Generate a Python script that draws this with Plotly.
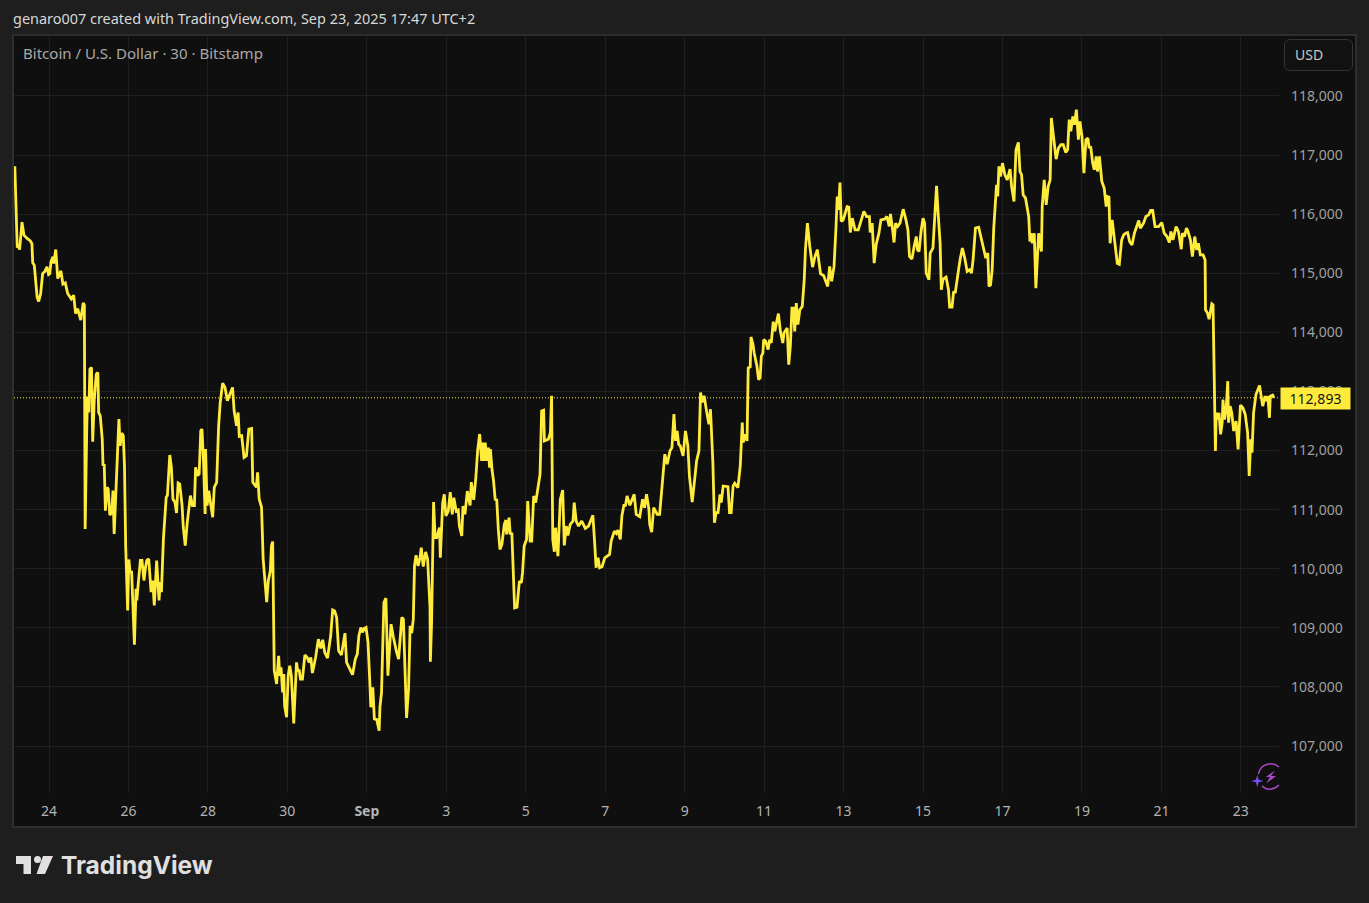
import numpy as np
import pandas as pd
import plotly.graph_objects as go

# Day numbers count from Aug 1 = 1, so Sep 1 = 32 and Sep 23 = 54. Each point: (day, BTC/USD price).
segment_late_aug_1 = [
 (23.12,116812),(23.16,116068),(23.18,115436),(23.21,115459),(23.24,115400),(23.30,115865),(23.35,115645),(23.43,115590),
 (23.51,115549),(23.55,115500),(23.57,115177),(23.61,115137),(23.65,114770),(23.68,114600),(23.72,114522),(23.77,114658),
 (23.82,114996),(23.88,115036),(23.93,115109),(23.97,114979),(24.00,114996),(24.03,115193),(24.08,115278),(24.10,115165),
 (24.15,115402),(24.20,114911),(24.28,115041),(24.33,114816),(24.39,114838),(24.45,114658),(24.54,114567),(24.60,114630),
 (24.65,114319),(24.70,114404),(24.78,114207),(24.84,114500),(24.87,114460),
 (24.89,110675),(24.93,112364),(24.95,112916),(24.98,112645),(25.01,113377),(25.05,113405),(25.08,112150),(25.12,112870),
 (25.17,113293),(25.21,113321),(25.23,112645),(25.27,112589),(25.32,112195),(25.34,111745),(25.37,111773),(25.40,110984),
 (25.44,111379),(25.47,111350),(25.51,110911),(25.56,110945),(25.59,111322),(25.62,110590),(25.66,111322),(25.71,112139),
 (25.74,112533),(25.77,112082),(25.81,112296),(25.85,112251),(25.88,111745),(25.91,110393),(25.96,109295),(25.99,110157),
 (26.02,109943),(26.06,109943),(26.13,108715),(26.17,109661),(26.19,109464),(26.23,109774),(26.28,110140),(26.32,110140),
 (26.37,109802),(26.41,110027),(26.44,110140),(26.49,110168),(26.55,109605),(26.59,109802),(26.63,109380),(26.69,110140),
 (26.75,109464),(26.78,109774),(26.81,109605),(26.86,110506),(26.90,110872),(26.93,111210),(26.96,111238),(27.02,111925),
 (27.06,111716),(27.10,111181),(27.15,111125),(27.19,110945),(27.23,111452),(27.27,111435),(27.33,111069),(27.36,110703),
 (27.41,110393),(27.46,110787),(27.54,111238),(27.59,111069),(27.64,111069),(27.67,111716),(27.72,111576),(27.76,111604),
 (27.80,112336),(27.83,112364),(27.87,111801),(27.91,110928),(27.92,112026),(27.96,111069),(28.00,111322),(28.05,111125),
 (28.10,110872),(28.14,111379),(28.20,111463),(28.25,112420),(28.29,112814),(28.35,113141),(28.41,113068),(28.47,112842),
 (28.53,112955),(28.60,113068),(28.64,112673),(28.70,112420),(28.74,112645),(28.77,112240),(28.83,112251),(28.89,111885),
 (28.95,111913),(29.01,112364),(29.08,112375),(29.11,111463),(29.20,111379),(29.23,111632),(29.27,111181),(29.33,111041),
 (29.37,110168),(29.43,109718),(29.46,109436),(29.50,109800),(29.55,109960),(29.58,110393),(29.61,110460),
]
segment_late_aug_2 = [
 (29.65,108275),(29.71,108050),(29.76,108528),(29.79,108191),(29.82,108331),(29.86,107909),(29.89,108219),(29.91,107684),
 (29.96,107487),(30.00,108191),(30.04,108360),(30.08,108191),(30.14,107385),(30.21,108416),(30.24,108275),(30.28,108275),
 (30.31,108135),(30.36,108135),(30.42,108540),(30.48,108500),(30.53,108416),(30.57,108500),(30.61,108236),(30.69,108500),
 (30.76,108810),(30.82,108652),(30.87,108799),(30.92,108585),(30.99,108489),(31.07,108866),(31.12,109305),(31.17,109288),
 (31.22,109176),(31.27,108613),(31.34,108540),(31.43,108911),(31.47,108416),(31.54,108331),(31.62,108208),(31.69,108472),
 (31.74,108557),(31.78,108866),(31.83,109007),(31.87,108923),(31.91,108990),(31.96,109007),(32.01,108754),(32.06,108010),
 (32.08,107656),(32.13,107994),(32.17,107459),(32.23,107447),(32.29,107262),(32.31,107656),(32.35,107909),(32.41,109429),
 (32.46,109502),(32.51,108191),(32.59,109063),(32.65,108838),(32.69,108697),(32.73,108585),(32.78,108472),(32.86,109176),
 (32.90,109148),(32.93,108360),(32.98,107476),(33.03,107965),(33.07,109035),(33.11,108911),(33.15,109148),(33.18,110049),
 (33.22,110229),(33.27,110049),(33.32,110189),(33.35,110358),(33.40,110037),(33.46,110285),(33.51,110161),(33.57,109345),
 (33.58,108427),(33.61,109091),(33.64,110780),(33.66,111129),(33.70,110527),(33.74,110527),(33.81,110696),(33.83,110189),
 (33.89,111118),(33.93,111259),(33.97,110893),(34.03,110977),(34.08,111298),(34.13,110921),(34.17,111203),(34.23,110977),
 (34.28,110994),(34.31,110724),(34.37,110555),(34.40,111062),(34.45,110921),(34.51,111315),(34.58,111073),(34.61,111467),
 (34.67,111166),(34.72,111507),(34.77,112005),(34.82,112280),
]
segment_early_sep = [
 (34.87,111825),(34.89,112136),(34.93,111825),(34.96,112136),(35.00,111825),(35.04,112051),(35.07,111712),(35.09,112023),
 (35.13,111684),(35.17,111486),(35.21,111175),(35.25,111164),(35.29,110666),(35.33,110328),(35.38,110413),(35.44,110751),
 (35.48,110825),(35.50,110582),(35.56,110864),(35.59,110582),(35.63,110610),(35.67,109706),(35.70,109339),(35.76,109350),
 (35.82,109791),(35.87,109763),(35.90,109943),(35.94,110384),(36.00,110497),(36.03,111147),(36.09,110469),(36.13,110469),
 (36.18,111232),(36.23,111119),(36.29,111401),(36.34,111599),(36.38,112672),(36.43,112684),(36.45,112164),(36.55,112192),
 (36.60,112305),(36.63,112927),(36.66,110497),(36.70,110288),(36.73,110695),(36.79,110214),(36.85,111175),(36.91,111333),
 (36.95,110395),(37.00,110723),(37.04,110565),(37.10,110751),(37.17,110808),(37.20,111119),(37.25,110808),(37.31,110723),
 (37.39,110808),(37.48,110683),(37.56,110723),(37.67,110904),(37.72,110384),(37.75,110017),(37.80,110186),(37.84,110017),
 (37.90,110034),(37.97,110186),(38.09,110243),(38.13,110469),(38.21,110638),(38.26,110599),(38.30,110655),(38.36,110497),
 (38.40,110893),(38.45,111073),(38.49,111073),(38.53,111232),(38.60,111073),(38.71,111260),(38.76,110921),(38.85,110881),
 (38.92,111175),(38.97,111034),(39.02,111260),(39.08,111006),(39.10,110751),(39.15,110621),(39.20,111034),(39.29,110921),
 (39.35,110921),(39.37,111119),(39.43,111542),(39.48,111938),(39.54,111768),(39.61,111994),(39.66,112051),(39.71,112616),
 (39.75,112164),(39.79,112333),(39.83,112107),(39.87,112079),(39.94,111910),(40.00,112333),(40.06,112079),(40.10,111571),
 (40.17,111130),(40.25,111627),(40.28,111825),(40.34,111994),(40.38,112983),(40.42,112814),(40.47,112927),(40.53,112672),
 (40.59,112446),(40.63,112700),(40.69,111797),(40.73,110780),(40.77,110949),(40.82,110949),(40.87,111260),(40.90,111119),
 (40.95,111401),(41.07,111390),(41.11,110949),(41.15,110949),(41.20,111401),(41.24,111446),(41.32,111373),(41.38,111740),
 (41.43,112475),(41.45,112136),(41.51,112277),(41.55,112164),(41.58,113399),
]
segment_mid_sep = [
 (41.63,113416),(41.65,113923),(41.70,113793),(41.73,113652),(41.80,113427),(41.84,113202),(41.88,113230),(41.91,113596),
 (41.95,113652),(41.97,113877),(42.02,113849),(42.08,113709),(42.12,113877),(42.16,113821),(42.21,114180),(42.25,114018),
 (42.29,114159),(42.34,114317),(42.39,114018),(42.45,113821),(42.48,113990),(42.56,114075),(42.60,113455),(42.64,113765),
 (42.68,114412),(42.72,114412),(42.75,114018),(42.79,114497),(42.83,114131),(42.88,114384),(42.94,114440),(42.99,114891),
 (43.02,115398),(43.07,115848),(43.13,115454),(43.20,115105),(43.26,115285),(43.32,115398),(43.40,114992),(43.48,114958),
 (43.58,114778),(43.63,115116),(43.68,114863),(43.74,115116),(43.79,115792),(43.82,116298),(43.85,116073),(43.89,116535),
 (43.92,115876),(43.97,115904),(44.07,116129),(44.11,116118),(44.15,115690),(44.20,115932),(44.27,115735),(44.35,115735),
 (44.44,115932),(44.49,116045),(44.56,115960),(44.63,115960),(44.65,115690),(44.70,115848),(44.75,115172),(44.80,115482),
 (44.87,115679),(44.92,115904),(45.01,115916),(45.07,115960),(45.13,115792),(45.16,116006),(45.21,115764),(45.25,115521),
 (45.29,115848),(45.34,115792),(45.40,115848),(45.48,116084),(45.55,115904),(45.60,115735),(45.64,115285),(45.70,115240),
 (45.76,115465),(45.81,115623),(45.84,115398),(45.88,115369),(45.93,115707),(45.98,115932),(46.02,115848),(46.06,115003),
 (46.13,114891),(46.16,115341),(46.23,115426),(46.27,116017),(46.32,116479),(46.36,116017),(46.41,115510),(46.44,114722),
 (46.48,114891),(46.52,114919),(46.56,114936),(46.62,114722),(46.65,114429),(46.71,114429),(46.75,114694),(46.79,114666),
 (46.84,114947),(46.88,115088),(46.92,115257),(46.97,115426),(47.03,115257),(47.09,115032),(47.15,115060),(47.20,115003),
 (47.24,115229),(47.30,115764),(47.38,115780),(47.44,115595),(47.51,115398),(47.56,115257),(47.61,115341),(47.64,114778),
 (47.68,114806),(47.72,115060),(47.76,115764),(47.80,116327),
]
segment_late_sep = [
 (47.83,116497),(47.86,116300),(47.89,116808),(47.93,116638),(47.98,116864),(48.04,116667),(48.10,116582),(48.17,116763),
 (48.21,116469),(48.27,116215),(48.32,117090),(48.38,117215),(48.42,116723),(48.46,116667),(48.50,116328),(48.56,116271),
 (48.59,116130),(48.64,115960),(48.67,115537),(48.70,115678),(48.73,115508),(48.78,115678),(48.82,114746),(48.89,115678),
 (48.96,115367),(48.98,116130),(49.03,116582),(49.08,116158),(49.13,116469),(49.18,116582),(49.21,117627),(49.28,117260),
 (49.33,116932),(49.39,117119),(49.45,117175),(49.51,117175),(49.57,117045),(49.62,117090),(49.66,117599),(49.70,117401),
 (49.75,117655),(49.79,117514),(49.84,117768),(49.89,117260),(49.93,117571),(49.98,117316),(50.03,116695),(50.08,117260),
 (50.13,117288),(50.16,117119),(50.20,117147),(50.25,116864),(50.29,116751),(50.34,116977),(50.37,116723),(50.42,116977),
 (50.48,116554),(50.54,116441),(50.59,116130),(50.62,116299),(50.66,116288),(50.69,115508),(50.74,115904),(50.77,115734),
 (50.82,115452),(50.87,115169),(50.92,115152),(50.98,115565),(51.03,115650),(51.08,115678),(51.13,115689),(51.18,115537),
 (51.24,115480),(51.30,115678),(51.41,115893),(51.45,115763),(51.53,115847),(51.59,115960),(51.66,115989),(51.71,116062),
 (51.76,116062),(51.82,115791),(51.91,115791),(51.99,115859),(52.05,115678),(52.12,115621),(52.18,115520),(52.22,115706),
 (52.27,115565),(52.35,115791),(52.41,115706),(52.48,115407),(52.51,115678),(52.56,115621),(52.61,115763),(52.65,115706),
 (52.71,115565),(52.76,115282),(52.82,115621),(52.87,115395),(52.91,115508),(52.96,115311),(53.03,115311),(53.08,115225),
 (53.09,114382),(53.14,114326),(53.18,114224),(53.25,114483),(53.28,114466),(53.31,113426),(53.34,111993),(53.36,112640),
 (53.40,112527),(53.43,112640),(53.47,112274),(53.51,112471),(53.53,112864),(53.57,112527),(53.61,112696),(53.65,113174),
 (53.67,112471),(53.71,112752),(53.75,112640),(53.80,112331),(53.86,112499),(53.91,112021),(53.97,112769),(54.03,112724),
 (54.09,112612),(54.15,112302),(54.19,111572),(54.23,112190),(54.26,111965),(54.30,112640),(54.36,112949),(54.45,113100),
 (54.53,112752),(54.59,112921),(54.62,112836),(54.66,112921),(54.70,112555),(54.72,112921),(54.78,112938),(54.81,112893),
]

tick_days = [24, 26, 28, 30, 32, 34, 36, 38, 40, 42, 44, 46, 48, 50, 52, 54]
tick_labels = ["24", "26", "28", "30", "<b>Sep</b>", "3", "5", "7", "9", "11", "13", "15", "17", "19", "21", "23"]
price_ticks = [107000, 108000, 109000, 110000, 111000, 112000, 113000, 114000, 115000, 116000, 117000, 118000]
last_price = 112893

FONT = "Noto Sans"
YELLOW = "#FFEB3B"
W, H = 1369, 903
L, R, T, B = 14, 1279, 36, 793


def to_date(d):
    return pd.Timestamp("2025-08-01") + pd.to_timedelta(np.asarray(d, dtype=float) - 1, unit="D")


def px(x):
    return (x - L) / (R - L)


def py(y):
    return (B - y) / (B - T)


def path(points, close=True):
    s = "M" + " L".join(f"{px(x):.5f},{py(y):.5f}" for x, y in points)
    return s + (" Z" if close else "")


def curve(start, *beziers):
    s = f"M{px(start[0]):.5f},{py(start[1]):.5f}"
    for a, b, c in beziers:
        s += f" C{px(a[0]):.5f},{py(a[1]):.5f} {px(b[0]):.5f},{py(b[1]):.5f} {px(c[0]):.5f},{py(c[1]):.5f}"
    return s


points = segment_late_aug_1 + segment_late_aug_2 + segment_early_sep + segment_mid_sep + segment_late_sep
days = [p[0] + 0.02 for p in points]  # half-pixel reading correction
prices = [p[1] for p in points]

fig = go.Figure(go.Scatter(
    x=to_date(days), y=prices, mode="lines",
    line=dict(color=YELLOW, width=2.8, shape="linear"), hoverinfo="skip",
))

shapes = [
    # panel
    dict(type="rect", xref="paper", yref="paper", x0=px(13), x1=px(1356), y0=py(827), y1=py(35),
         fillcolor="#0f0f0f", line=dict(color="#2e2e2e", width=2), layer="below"),
    # USD button
    dict(type="path", xref="paper", yref="paper", layer="above",
         path=curve((1290, 39.5), ((1288, 39.5), (1284.5, 41), (1284.5, 45))) +
              " L" + f"{px(1284.5):.5f},{py(65):.5f} " +
              curve((1284.5, 65), ((1284.5, 69), (1288, 70.5), (1290, 70.5))).replace("M", "L", 1) +
              f" L{px(1346):.5f},{py(70.5):.5f} " +
              curve((1346, 70.5), ((1349, 70.5), (1352.5, 69), (1352.5, 65))).replace("M", "L", 1) +
              f" L{px(1352.5):.5f},{py(45):.5f} " +
              curve((1352.5, 45), ((1352.5, 41), (1349, 39.5), (1346, 39.5))).replace("M", "L", 1) + " Z",
         fillcolor="#111111", line=dict(color="#363636", width=1)),
    # TradingView logo
    dict(type="path", xref="paper", yref="paper", fillcolor="#e0e0e0", line=dict(width=0),
         path=path([(16, 856), (31, 856), (31, 874), (23.5, 874), (23.5, 864), (16, 864)])),
    dict(type="path", xref="paper", yref="paper", fillcolor="#e0e0e0", line=dict(width=0),
         path=path([(43, 856), (53, 856), (45, 874), (36.5, 874)])),
    dict(type="circle", xref="paper", yref="paper", fillcolor="#e0e0e0", line=dict(width=0),
         x0=px(34), x1=px(41), y0=py(863), y1=py(856)),
    # bolt badge
    dict(type="path", xref="paper", yref="paper", fillcolor="rgba(0,0,0,0)", line=dict(color="#a848c4", width=1.5),
         path=curve((1279, 767), ((1272, 761), (1260, 764), (1258.5, 774)))),
    dict(type="path", xref="paper", yref="paper", fillcolor="rgba(0,0,0,0)", line=dict(color="#a848c4", width=1.5),
         path=curve((1262, 786), ((1267, 791), (1274, 790), (1279, 785)))),
    dict(type="path", xref="paper", yref="paper", fillcolor="#a848c4", line=dict(width=0),
         path=path([(1275, 770.5), (1265.7, 777), (1270, 777), (1266.3, 783.5), (1276, 776), (1271, 776)])),
    dict(type="path", xref="paper", yref="paper", fillcolor="#7c4dff", line=dict(width=0),
         path=path([(1257.3, 774.8), (1258.6, 779.7), (1263.5, 781), (1258.6, 782.3), (1257.3, 787.2),
                    (1256, 782.3), (1251.1, 781), (1256, 779.7)])),
    # last price dotted line
    dict(type="line", xref="paper", yref="y", x0=0, x1=1, y0=last_price, y1=last_price,
         line=dict(color=YELLOW, width=1, dash="1px,2px")),
]


def text(x, y, s, color, size=14, anchor="left", weight=None):
    return dict(xref="paper", yref="paper", x=px(x), y=py(y), text=s, showarrow=False, xanchor=anchor, yanchor="middle",
                font=dict(family=FONT, size=size, color=color, weight=weight), borderpad=0)


annotations = [
    text(11.7, 19, "genaro007 created with TradingView.com, Sep 23, 2025 17:47 UTC+2", "#d8d8d8", size=14.45),
    text(21.7, 53.5, "Bitcoin / U.S. Dollar · 30 · Bitstamp", "#a8a8a8", size=15.05),
    text(1293.7, 54.5, "USD", "#c8c8c8"),
    dict(xref="paper", yref="y", x=px(1280), y=last_price, xanchor="left", yanchor="middle", showarrow=False,
         text="112,893", width=69, height=21, align="center", bgcolor=YELLOW, borderpad=0, yshift=-1,
         font=dict(family=FONT, size=14, color="#131313")),
    dict(text="TradingView", xref="paper", yref="paper", x=px(59.5), y=py(865), showarrow=False, xanchor="left",
         yanchor="middle", borderpad=0, font=dict(family="Inter", size=24.5, color="#e0e0e0", weight=700)),
]

fig.update_layout(
    width=W, height=H, autosize=False,
    margin=dict(l=L, r=W - R, t=T, b=H - B, pad=0),
    paper_bgcolor="#1e1e1e", plot_bgcolor="#0f0f0f",
    showlegend=False, hovermode=False,
    shapes=shapes, annotations=annotations,
    font=dict(family=FONT, size=14, color="#a8a8a8"),
    xaxis=dict(
        type="date",
        range=[to_date(23.119).isoformat(), to_date(54.96).isoformat()],
        tickmode="array", tickvals=to_date(tick_days), ticktext=tick_labels,
        showgrid=True, gridcolor="#1f1f1f", gridwidth=1, showline=False, zeroline=False,
        ticks="", ticklabelstandoff=8, tickfont=dict(family=FONT, size=14, color="#b4b4b4"),
        fixedrange=True,
    ),
    yaxis=dict(
        side="right",
        range=[106206, 119015],
        tickmode="array", tickvals=price_ticks, tickformat=",d",
        showgrid=True, gridcolor="#1f1f1f", gridwidth=1, showline=False, zeroline=False,
        ticks="", ticklabelstandoff=11, tickfont=dict(family=FONT, size=14, color="#a0a0a0"),
        fixedrange=True,
    ),
)

fig.write_html(
    "out.html",
    config={"displayModeBar": False, "staticPlot": True},
    post_script="document.body.style.margin='0';document.body.style.background='#1e1e1e';document.body.style.overflow='hidden';",
)
